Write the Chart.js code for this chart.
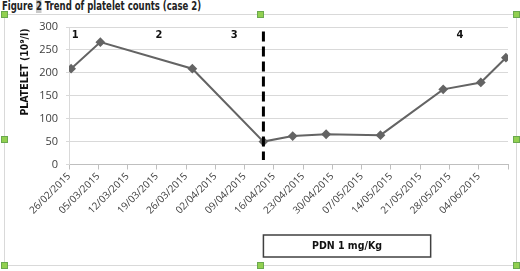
<!DOCTYPE html>
<html>
<head>
<meta charset="utf-8">
<script src="https://cdn.jsdelivr.net/npm/chart.js@4.4.1/dist/chart.umd.min.js"></script>
<style>
  body { margin: 0; background: #fff; }
  #wrap { position: relative; width: 520px; height: 271px; overflow: hidden; }
  #title { position: absolute; left: 2px; top: -1px; font: bold 12px "Liberation Sans Narrow", "DejaVu Sans Condensed", sans-serif; color: #222; white-space: nowrap; transform: scaleX(0.79); transform-origin: 0 0; }
  #title span { background: #c8c8c8; }
  #frame { position: absolute; left: 4px; top: 14px; width: 511px; height: 250px; border: 1px solid #d9d9d9; }
  .h { position: absolute; width: 5px; height: 5px; background: #92d050; border: 1px solid #6aa84f; }
  canvas { position: absolute; left: 0; top: 0; }
</style>
</head>
<body>
<div id="wrap">
  <div id="frame"></div>
  <div id="title">Figure <span>2</span> Trend of platelet counts (case 2)</div>
  <canvas id="c" width="520" height="271"></canvas>
</div>
<script>
// sample dates and platelet counts (10^9/l)
var sampleDates = ['26/02/2015', '05/03/2015', '27/03/2015', '13/04/2015', '20/04/2015',
  '28/04/2015', '11/05/2015', '26/05/2015', '04/06/2015', '10/06/2015'];
var plateletCounts = [209, 267, 209, 50, 62, 66, 64, 164, 179, 233];

// date axis: weekly ticks, last tick unlabeled
var axisStart = '26/02/2015';
var axisEnd = '11/06/2015';
var tickStepDays = 7;
var yTicksMax = 300;
var yTicksStep = 50;

// phase numbers written across the top
var phaseLabels = ['1', '2', '3', '4'];
var phaseDates = ['27/02/2015', '19/03/2015', '06/04/2015', '30/05/2015'];

// treatment start marker and PDN box
var treatmentDate = '13/04/2015';
var pdnEnd = '23/05/2015';
var pdnLabel = 'PDN 1 mg/Kg';

function dayOf(s) {
  var p = s.split('/').map(Number);
  var a = axisStart.split('/').map(Number);
  return (Date.UTC(p[2], p[1] - 1, p[0]) - Date.UTC(a[2], a[1] - 1, a[0])) / 864e5;
}
function fmtDay(v) {
  var a = axisStart.split('/').map(Number);
  var d = new Date(Date.UTC(a[2], a[1] - 1, a[0]) + v * 864e5);
  var dd = ('0' + d.getUTCDate()).slice(-2), mm = ('0' + (d.getUTCMonth() + 1)).slice(-2);
  return dd + '/' + mm + '/' + d.getUTCFullYear();
}
// points sit in the middle of their day slot, like a spreadsheet date axis
function slot(s) { return dayOf(s) + 0.5; }

var points = sampleDates.map(function (s, i) { return { x: slot(s), y: plateletCounts[i] }; });
var lastDay = dayOf(axisEnd);

// handles of the selected chart frame
(function () {
  var pos = [[1, 11], [257, 11], [513, 11], [1, 136], [513, 136], [1, 262], [257, 262], [513, 262]];
  var wrap = document.getElementById('wrap');
  pos.forEach(function (p) {
    var h = document.createElement('div');
    h.className = 'h';
    h.style.left = p[0] + 'px';
    h.style.top = p[1] + 'px';
    wrap.appendChild(h);
  });
})();

var labelFont = '"Liberation Sans Narrow", "DejaVu Sans Condensed", sans-serif';
var tickFont = '"Open Sans", sans-serif';

var extras = {
  id: 'extras',
  afterDraw: function (chart) {
    var ctx = chart.ctx, x = chart.scales.x, y = chart.scales.y;
    ctx.save();
    // y axis title
    ctx.save();
    ctx.translate(25, 72);
    ctx.rotate(-Math.PI / 2);
    ctx.font = 'bold 10.5px ' + labelFont;
    ctx.fillStyle = '#111';
    ctx.textAlign = 'center';
    ctx.textBaseline = 'middle';
    ctx.fillText('PLATELET (10\u2079/l)', 0, 0);
    ctx.restore();

    // phase numbers
    ctx.font = 'bold 11px ' + labelFont;
    ctx.fillStyle = '#111';
    ctx.textAlign = 'center';
    ctx.textBaseline = 'middle';
    phaseLabels.forEach(function (t, i) {
      ctx.fillText(t, x.getPixelForValue(slot(phaseDates[i])), y.getPixelForValue(283));
    });

    // dashed line at treatment start
    var tx = x.getPixelForValue(slot(treatmentDate));
    ctx.strokeStyle = '#000';
    ctx.lineWidth = 3;
    ctx.setLineDash([10, 5]);
    ctx.beginPath();
    ctx.moveTo(tx, y.getPixelForValue(290));
    ctx.lineTo(tx, y.getPixelForValue(10));
    ctx.stroke();
    ctx.setLineDash([]);

    // PDN box under the axis
    var ex = x.getPixelForValue(slot(pdnEnd));
    ctx.fillStyle = '#fff';
    ctx.fillRect(tx, 235, ex - tx, 22);
    ctx.strokeStyle = '#404040';
    ctx.lineWidth = 1.5;
    ctx.strokeRect(tx, 235, ex - tx, 22);
    ctx.fillStyle = '#111';
    ctx.font = 'bold 10.5px ' + labelFont;
    ctx.fillText(pdnLabel, (tx + ex) / 2, 246.5);
    ctx.restore();
  }
};

new Chart(document.getElementById('c'), {
  type: 'line',
  data: {
    datasets: [{
      data: points,
      borderColor: '#646464',
      backgroundColor: '#646464',
      borderWidth: 2,
      pointStyle: 'rectRot',
      pointRadius: 3.5,
      pointHoverRadius: 3.5,
      tension: 0
    }]
  },
  options: {
    responsive: false,
    animation: false,
    events: [],
    layout: { padding: { left: 0, right: 12, top: 27, bottom: 0 } },
    plugins: { legend: { display: false }, tooltip: { enabled: false } },
    scales: {
      x: {
        type: 'linear',
        min: 0,
        max: lastDay,
        afterFit: function (s) { s.height = 106.5; },
        grid: { drawOnChartArea: false, drawTicks: true, tickLength: 5, color: '#bfbfbf' },
        border: { color: '#bfbfbf' },
        ticks: {
          stepSize: tickStepDays,
          autoSkip: false,
          maxRotation: 45,
          minRotation: 45,
          padding: 1,
          color: '#404040',
          font: { family: tickFont, size: 10 },
          callback: function (v) { return v >= lastDay ? '' : fmtDay(v); }
        }
      },
      y: {
        min: 0,
        max: yTicksMax,
        afterFit: function (s) { s.width = 69; },
        grid: { color: '#d9d9d9', drawTicks: true, tickLength: 3 },
        border: { color: '#d9d9d9' },
        ticks: {
          stepSize: yTicksStep,
          padding: 8,
          color: '#404040',
          font: { family: tickFont, size: 11 }
        }
      }
    }
  },
  plugins: [extras]
});
</script>
</body>
</html>
